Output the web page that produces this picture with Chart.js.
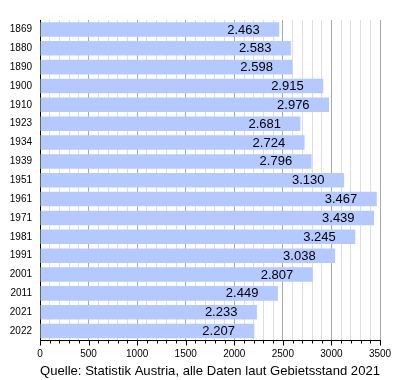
<!DOCTYPE html>
<html>
<head>
<meta charset="utf-8">
<script src="https://cdn.jsdelivr.net/npm/chart.js@4/dist/chart.umd.min.js"></script>
<style>
html,body{margin:0;padding:0;background:#fff;}
#wrap{width:400px;height:380px;}
</style>
</head>
<body>
<div id="wrap"><canvas id="c" width="400" height="380"></canvas></div>
<script>
const years = ['1869','1880','1890','1900','1910','1923','1934','1939','1951','1961','1971','1981','1991','2001','2011','2021','2022'];
const population = [2463,2583,2598,2915,2976,2681,2724,2796,3130,3467,3439,3245,3038,2807,2449,2233,2207];
const axisMin = 0;
const axisMax = 3500;
const minorStep = 100;
const majorStep = 500;
const caption = 'Quelle: Statistik Austria, alle Daten laut Gebietsstand 2021';

const FONT = '"Liberation Sans", Arial, sans-serif';

function fmt(v){ return String(v).replace(/\B(?=(\d{3})+(?!\d))/g, '.'); }

const valueLabels = {
  id: 'valueLabels',
  afterDatasetsDraw(chart){
    const ctx = chart.ctx;
    const meta = chart.getDatasetMeta(0);
    ctx.save();
    ctx.font = '13px ' + FONT;
    ctx.fillStyle = '#000';
    ctx.textAlign = 'right';
    ctx.textBaseline = 'middle';
    meta.data.forEach((bar, i) => {
      ctx.fillText(fmt(population[i]), bar.x - 19.5, bar.y + 0.5);
    });
    ctx.restore();
  }
};

const axisTicks = {
  id: 'axisTicks',
  afterDraw(chart){
    const ctx = chart.ctx;
    const sx = chart.scales.x;
    const y0 = chart.chartArea.bottom;
    ctx.save();
    ctx.strokeStyle = '#000';
    ctx.lineWidth = 1;
    sx.ticks.forEach(t => {
      const x = Math.round(sx.getPixelForValue(t.value)) + 0.5;
      const len = (t.value % majorStep === 0) ? 5 : 3;
      ctx.beginPath();
      ctx.moveTo(x, y0);
      ctx.lineTo(x, y0 + len);
      ctx.stroke();
    });
    ctx.restore();
  }
};

new Chart(document.getElementById('c'), {
  type: 'bar',
  data: {
    labels: years,
    datasets: [{
      data: population,
      backgroundColor: '#b3c9ff',
      borderWidth: 0,
      barPercentage: 0.77,
      categoryPercentage: 1.0
    }]
  },
  options: {
    indexAxis: 'y',
    responsive: false,
    animation: false,
    devicePixelRatio: 1,
    layout: { padding: { top: 20, right: 20, left: 0, bottom: 0 } },
    plugins: { legend: { display: false }, tooltip: { enabled: false } },
    scales: {
      x: {
        type: 'linear',
        min: axisMin,
        max: axisMax,
        afterFit(s){ s.height = 39.5; },
        ticks: {
          stepSize: minorStep,
          autoSkip: false,
          maxRotation: 0,
          padding: 8,
          color: '#000',
          font: { family: FONT, size: 10 },
          callback: v => (v % majorStep === 0 ? String(v) : '')
        },
        grid: {
          drawTicks: false,
          color: ctx => (ctx.tick && ctx.tick.value % majorStep === 0 ? '#a8a8a8' : '#dddddd'),
          lineWidth: 1
        },
        border: { display: true, color: '#000', width: 1 },
        title: {
          display: true,
          text: caption,
          color: '#000',
          font: { family: FONT, size: 13.5 },
          padding: { top: 0, bottom: 1 }
        }
      },
      y: {
        afterFit(s){ s.width = 40; },
        ticks: {
          padding: 8,
          color: '#000',
          font: { family: FONT, size: 10 }
        },
        grid: { display: false, drawTicks: false },
        border: { display: true, color: '#000', width: 1 }
      }
    }
  },
  plugins: [valueLabels, axisTicks]
});
</script>
</body>
</html>
